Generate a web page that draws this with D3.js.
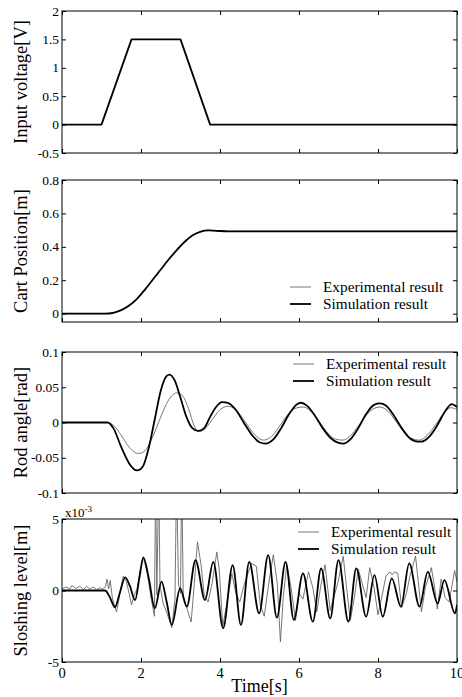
<!DOCTYPE html>
<html>
<head>
<meta charset="utf-8">
<script src="https://cdn.jsdelivr.net/npm/d3@7"></script>
<style>
  body { margin: 0; background: #fff; }
</style>
</head>
<body>
<svg id="chart" width="462" height="697" font-family="'Liberation Serif', 'DejaVu Serif', serif"></svg>
<script>
// ---- data (time in s) ----
const timeTicks = [0, 2, 4, 6, 8, 10];

const voltage = [[0, 0], [1.0, 0], [1.76, 1.5], [3.0, 1.5], [3.75, 0], [10, 0]];

const cartExp = [[0, 0], [1.1, 0], [1.3, 0.006], [1.5, 0.022], [1.7, 0.05], [1.9, 0.09], [2.1, 0.145],
  [2.3, 0.205], [2.5, 0.265], [2.7, 0.325], [2.9, 0.38], [3.1, 0.43], [3.3, 0.469], [3.5, 0.491],
  [3.7, 0.499], [3.9, 0.497], [4.2, 0.493], [10, 0.493]];
const cartSim = [[0, 0], [1.1, 0], [1.3, 0.005], [1.5, 0.021], [1.7, 0.049], [1.9, 0.089], [2.1, 0.144],
  [2.3, 0.204], [2.5, 0.264], [2.7, 0.324], [2.9, 0.379], [3.1, 0.429], [3.3, 0.468], [3.5, 0.49],
  [3.7, 0.498], [3.9, 0.496], [4.2, 0.493], [10, 0.493]];

const rodExp = [[0, 0], [1.15, 0], [1.3, -0.004], [1.5, -0.018], [1.7, -0.035], [1.94, -0.044], [2.1, -0.04],
  [2.3, -0.02], [2.5, 0.008], [2.7, 0.032], [2.9, 0.042], [3.05, 0.038], [3.2, 0.02], [3.35, -0.005],
  [3.45, -0.013], [3.6, -0.01], [3.8, 0.004], [4.0, 0.018], [4.2, 0.023], [4.4, 0.018], [4.6, 0.004],
  [4.8, -0.012], [5.0, -0.023], [5.1, -0.025], [5.3, -0.02], [5.5, -0.006], [5.7, 0.01], [5.9, 0.02],
  [6.1, 0.022], [6.3, 0.016], [6.5, 0.002], [6.7, -0.013], [6.9, -0.023], [7.1, -0.025], [7.3, -0.019],
  [7.5, -0.005], [7.7, 0.01], [7.9, 0.02], [8.05, 0.022], [8.25, 0.016], [8.45, 0.002], [8.65, -0.013],
  [8.85, -0.023], [9.05, -0.025], [9.25, -0.018], [9.45, -0.004], [9.65, 0.012], [9.85, 0.021], [10, 0.018]];
const rodSim = [[0, 0], [1.15, 0], [1.3, -0.008], [1.5, -0.035], [1.7, -0.058], [1.9, -0.068], [2.05, -0.062],
  [2.2, -0.035], [2.35, 0.005], [2.5, 0.045], [2.65, 0.066], [2.72, 0.068], [2.85, 0.06], [3.0, 0.035],
  [3.15, 0.008], [3.3, -0.008], [3.45, -0.012], [3.6, -0.008], [3.75, 0.008], [3.9, 0.022], [4.05, 0.029],
  [4.2, 0.028], [4.4, 0.018], [4.6, 0.0], [4.8, -0.017], [5.0, -0.028], [5.15, -0.03], [5.35, -0.024],
  [5.55, -0.008], [5.75, 0.012], [5.95, 0.026], [6.05, 0.028], [6.2, 0.024], [6.4, 0.01], [6.6, -0.008],
  [6.8, -0.022], [7.0, -0.029], [7.12, -0.03], [7.3, -0.024], [7.5, -0.008], [7.7, 0.012], [7.9, 0.025],
  [8.05, 0.027], [8.2, 0.024], [8.4, 0.01], [8.6, -0.008], [8.8, -0.022], [9.0, -0.027], [9.1, -0.027],
  [9.3, -0.02], [9.5, -0.004], [9.7, 0.016], [9.87, 0.026], [10, 0.022]];

// sloshing level in units of 1e-3 m
const slosExp = [[0, 0.1], [0.1, 0.25], [0.2, 0.1], [0.25, 0.35], [0.35, 0.15], [0.45, 0.3], [0.55, 0.05],
  [0.62, 0.3], [0.7, 0.1], [0.8, 0.25], [0.88, 0.05], [0.95, 0.2], [1.02, 0.1], [1.1, 0.25], [1.14, 0.8],
  [1.18, 0.1], [1.22, 0.7], [1.28, -0.6], [1.38, -1.5], [1.46, -0.3], [1.55, 1.0], [1.62, 0.7], [1.7, -0.2],
  [1.76, -1.0], [1.83, -0.3], [1.9, 0.1], [1.97, 1.3], [2.06, 2.3], [2.16, 1.2], [2.26, -0.6], [2.34, -1.8],
  [2.37, 8], [2.4, -0.3], [2.45, 8], [2.48, 0.4], [2.56, -0.9], [2.66, -1.6], [2.78, -2.6], [2.86, -0.6],
  [2.9, 8], [2.95, 0.4], [3.0, -0.2], [3.03, 8], [3.07, -0.4], [3.17, -1.3], [3.27, -2.2], [3.35, 0.5],
  [3.43, 3.4], [3.52, 1.8], [3.6, -0.3], [3.7, -0.8], [3.8, 0.5], [3.92, 2.7], [3.98, 1.5], [4.07, -2.5],
  [4.18, -0.8], [4.3, 1.2], [4.4, -0.2], [4.5, -0.8], [4.62, 0.5], [4.8, 1.9], [4.92, 1.7], [5.02, -1.0],
  [5.12, -1.8], [5.25, 0.8], [5.35, 2.5], [5.45, 0.5], [5.53, -3.6], [5.6, -0.5], [5.69, 1.8], [5.8, 0.2],
  [5.91, -2.1], [6.0, -0.2], [6.1, -0.6], [6.24, 1.3], [6.35, 0.2], [6.45, -1.5], [6.55, 0.3], [6.66, 1.8],
  [6.79, -1.4], [6.9, -0.3], [6.98, 0.5], [7.12, 2.4], [7.2, 0.3], [7.3, -2.1], [7.4, -0.5], [7.5, 1.5],
  [7.6, 0.5], [7.7, -0.5], [7.79, 1.6], [7.9, 0.2], [8.0, -1.7], [8.1, -0.4], [8.2, 1.0], [8.3, 1.3],
  [8.36, 1.1], [8.42, 1.3], [8.5, 1.2], [8.6, -1.2], [8.72, -0.2], [8.8, 0.9], [8.95, 2.4], [9.02, 0.6],
  [9.1, -1.5], [9.2, 0.2], [9.35, 1.6], [9.43, 0.3], [9.5, -1.3], [9.6, 0.8], [9.7, -0.5], [9.8, -0.8],
  [9.94, 1.4], [10, 0.6]];
const slosSim = [[0, 0], [1.0, 0], [1.09, 0], [1.2, -0.4], [1.34, -1.17], [1.47, -0.1], [1.6, 0.92],
  [1.72, 0.3], [1.85, -0.67], [1.96, 0.9], [2.06, 2.32], [2.2, 0.8], [2.35, -1.25], [2.52, 0.62],
  [2.65, -0.8], [2.78, -2.41], [2.99, 0.15], [3.16, -1.13], [3.38, 2.13], [3.62, -0.67], [3.83, 2.0],
  [4.08, -2.64], [4.32, 1.78], [4.53, -2.41], [4.74, 2.0], [4.99, -1.6], [5.22, 2.47], [5.44, -1.9],
  [5.66, 2.0], [5.87, -2.06], [6.1, 1.2], [6.35, -2.18], [6.56, 1.55], [6.79, -1.95], [7.0, 2.13],
  [7.25, -2.18], [7.45, 1.55], [7.7, -1.83], [7.91, 1.08], [8.12, -1.83], [8.35, 0.85], [8.58, -1.13],
  [8.79, 1.9], [9.05, -1.13], [9.26, 1.3], [9.51, -0.9], [9.68, 0.73], [9.95, -1.6], [10, -1.0]];

const legendLabels = ["Experimental result", "Simulation result"];

// ---- layout ----
const svg = d3.select("#chart");
const X0 = 62, X1 = 457;
const x = d3.scaleLinear().domain([0, 10]).range([X0, X1]);

const panels = [
  { top: 11, bottom: 153, domain: [-0.5, 2], ticks: [-0.5, 0, 0.5, 1, 1.5, 2], label: "Input voltage[V]",
    series: [{ data: voltage, exp: false, curve: d3.curveLinear }], legend: null },
  { top: 180, bottom: 322, domain: [-0.05, 0.8], ticks: [0, 0.2, 0.4, 0.6, 0.8], label: "Cart Position[m]",
    series: [{ data: cartExp, exp: true, curve: d3.curveMonotoneX }, { data: cartSim, exp: false, curve: d3.curveMonotoneX }],
    legend: { x: 290, y: 287 } },
  { top: 352, bottom: 493, domain: [-0.1, 0.1], ticks: [-0.1, -0.05, 0, 0.05, 0.1], label: "Rod angle[rad]",
    series: [{ data: rodExp, exp: true, curve: d3.curveMonotoneX }, { data: rodSim, exp: false, curve: d3.curveMonotoneX }],
    legend: { x: 293, y: 364 } },
  { top: 519, bottom: 662, domain: [-5, 5], ticks: [-5, 0, 5], label: "Sloshing level[m]",
    series: [{ data: slosExp, exp: true, curve: d3.curveLinear }, { data: slosSim, exp: false, curve: d3.curveMonotoneX }],
    legend: { x: 298, y: 532 } }
];

panels.forEach((p, i) => {
  const y = d3.scaleLinear().domain(p.domain).range([p.bottom, p.top]);
  const g = svg.append("g");

  g.append("clipPath").attr("id", "clip" + i)
    .append("rect").attr("x", X0).attr("y", p.top).attr("width", X1 - X0).attr("height", p.bottom - p.top);

  const last = i === panels.length - 1;
  // axes with inward ticks on all four sides
  g.append("g").attr("transform", `translate(0,${p.bottom})`)
    .call(d3.axisTop(x).tickValues(timeTicks).tickSize(4).tickFormat(""))
    .call(a => a.select(".domain").remove());
  g.append("g").attr("transform", `translate(0,${p.top})`)
    .call(d3.axisBottom(x).tickValues(timeTicks).tickSize(4).tickFormat(""))
    .call(a => a.select(".domain").remove());
  g.append("g").attr("transform", `translate(${X0},0)`)
    .call(d3.axisRight(y).tickValues(p.ticks).tickSize(4).tickFormat(""))
    .call(a => a.select(".domain").remove());
  g.append("g").attr("transform", `translate(${X1},0)`)
    .call(d3.axisLeft(y).tickValues(p.ticks).tickSize(4).tickFormat(""))
    .call(a => a.select(".domain").remove());
  g.selectAll(".tick line").attr("stroke", "#000").attr("stroke-width", 1);

  // y tick labels
  g.selectAll(".ylab").data(p.ticks).join("text")
    .attr("x", X0 - 3).attr("y", d => y(d) + 4.5)
    .attr("text-anchor", "end").attr("font-size", 13.5)
    .text(d => String(d));

  if (last) {
    g.selectAll(".xlab").data(timeTicks).join("text")
      .attr("x", d => x(d)).attr("y", p.bottom + 16)
      .attr("text-anchor", "middle").attr("font-size", 14.5)
      .text(d => String(d));
    svg.append("text").attr("x", (X0 + X1) / 2).attr("y", 692)
      .attr("text-anchor", "middle").attr("font-size", 18).text("Time[s]");
    const mult = svg.append("text").attr("x", 65).attr("y", 517).attr("font-size", 13);
    mult.append("tspan").text("x10");
    mult.append("tspan").attr("dy", -5).attr("font-size", 9).text("-3");
  }

  // y label
  svg.append("text")
    .attr("transform", `translate(27,${(p.top + p.bottom) / 2}) rotate(-90)`)
    .attr("text-anchor", "middle").attr("font-size", 18.5)
    .text(p.label);

  // lines
  const plot = g.append("g").attr("clip-path", `url(#clip${i})`);
  p.series.forEach(s => {
    const line = d3.line().x(d => x(d[0])).y(d => y(d[1])).curve(s.curve);
    plot.append("path").datum(s.data)
      .attr("fill", "none")
      .attr("stroke", s.exp ? "#666" : "#000")
      .attr("stroke-width", s.exp ? 0.9 : 1.8)
      .attr("stroke-linejoin", "round")
      .attr("d", line);
  });

  // frame
  g.append("rect").attr("x", X0).attr("y", p.top).attr("width", X1 - X0).attr("height", p.bottom - p.top)
    .attr("fill", "none").attr("stroke", "#000").attr("stroke-width", 1);

  // legend
  if (p.legend) {
    legendLabels.forEach((lab, k) => {
      const ly = p.legend.y + k * 17;
      svg.append("line").attr("x1", p.legend.x).attr("x2", p.legend.x + 21)
        .attr("y1", ly).attr("y2", ly)
        .attr("stroke", k === 0 ? "#666" : "#000").attr("stroke-width", k === 0 ? 0.9 : 1.8);
      svg.append("text").attr("x", p.legend.x + 33).attr("y", ly + 5)
        .attr("font-size", 15.3).text(lab);
    });
  }
});
</script>
</body>
</html>
